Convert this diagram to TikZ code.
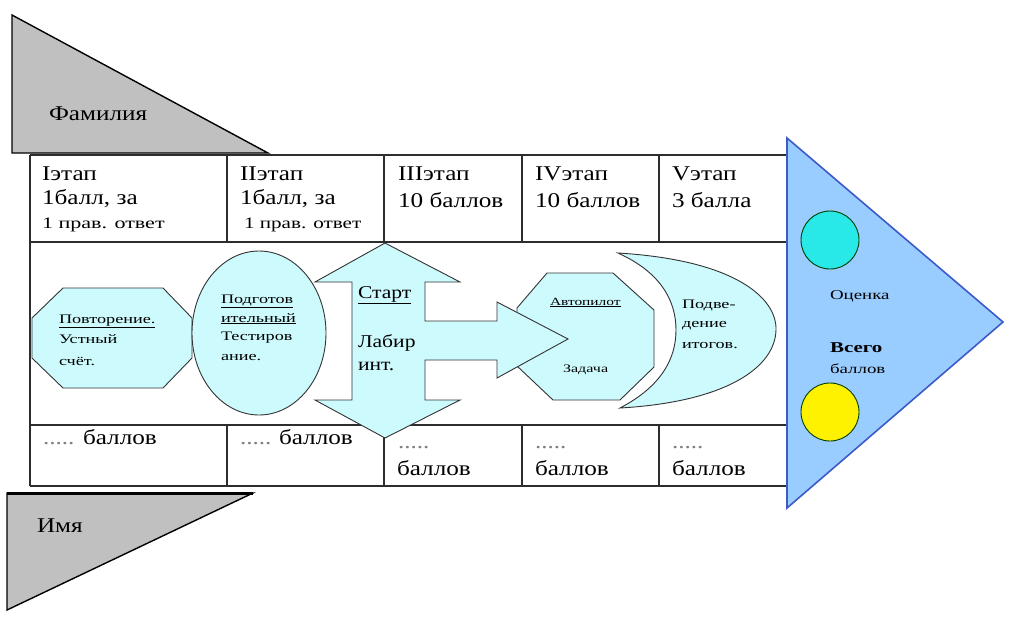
\documentclass[tikz,border=0pt]{standalone}
\usepackage{fontspec}
\setmainfont{Liberation Serif}
\newfontfamily\wf[FakeStretch=1.2]{Liberation Serif}
\newfontfamily\wfw[FakeStretch=1.4]{Liberation Serif}
\definecolor{lcyan}{RGB}{205,250,253}
\definecolor{tgray}{RGB}{192,192,192}
\definecolor{bfill}{RGB}{153,204,255}
\definecolor{bline}{RGB}{60,90,200}
\definecolor{ccyan}{RGB}{40,232,232}
\definecolor{lineg}{RGB}{45,45,45}
\begin{document}
\begin{tikzpicture}[x=1pt,y=-1pt,
  lbl/.style={anchor=base west, inner sep=0pt, outer sep=0pt},
  big/.style={lbl, font=\fontsize{21}{24}\wf},
  small/.style={lbl, font=\fontsize{16}{18}\wf},
  tiny/.style={lbl, font=\fontsize{13}{15}\wfw},
  mid/.style={lbl, font=\fontsize{18}{20}\wf},
  dots/.style={lbl, font=\fontsize{21}{24}\wf, text=gray},
  tbl/.style={draw=lineg, line width=1.4pt},
  shp/.style={draw=black!80, line width=0.9pt, fill=lcyan},
  gtri/.style={fill=tgray, draw=black, line width=1.4pt},
]
\useasboundingbox (0,0) rectangle (1009,619);
\fill[white] (0,0) rectangle (1009,619);

% gray triangles
\draw[gtri] (12,15) -- (12,153) -- (268,153) -- cycle;
\draw[gtri] (7,493) -- (253,493) -- (7,610) -- cycle;
\draw[black, line width=3pt] (7,493) -- (253,493);

% table
\draw[tbl, line width=2.2pt] (30,155) -- (787,155);
\draw[tbl] (30,242) -- (787,242);
\draw[tbl] (30,425) -- (787,425);
\draw[tbl] (30,486) -- (787,486);
\draw[tbl] (30,155) -- (30,486);
\foreach \cx in {227,384,522,659} {
  \draw[tbl] (\cx,155) -- (\cx,242);
  \draw[tbl] (\cx,425) -- (\cx,486);
}

% blue triangle
\draw[fill=bfill, draw=bline, line width=1.6pt] (787,138) -- (1003,322) -- (787,508) -- cycle;
\draw[fill=ccyan, draw=black!75!green, line width=0.9pt] (830,240) circle (29);
\draw[fill=yellow, draw=black!75!green, line width=0.9pt] (830,412) circle (29);

% shape 1: octagon
\draw[shp] (63,288) -- (163,288) -- (192,318) -- (192,358) -- (163,388) -- (63,388) -- (32,358) -- (32,318) -- cycle;
% shape 2: ellipse
\draw[shp] (259,333) ellipse [x radius=67, y radius=82];
% shape 4: octagon
\draw[shp] (547,273) -- (613,273) -- (654,310) -- (654,367) -- (620,400) -- (553,400) -- (517,366) -- (517,308) -- cycle;
% shape 5: crescent
\draw[shp] (618,253) .. controls (735,260) and (777,298) .. (776,330)
  .. controls (775,368) and (725,402) .. (620,408)
  .. controls (662,386) and (676,358) .. (676,330)
  .. controls (676,300) and (660,272) .. (618,253) -- cycle;
% shape 3: cross arrow
\draw[shp] (385,243) -- (460,282) -- (425,282) -- (425,321) -- (497,321) -- (497,302) -- (568,339) -- (497,378) -- (497,360) -- (425,360) -- (425,400) -- (460,400) -- (385,438) -- (315,400) -- (352,400) -- (352,282) -- (315,282) -- cycle;

% texts: triangles
\node[lbl, font=\fontsize{21}{24}\wf] (fam) at (49,120) {Фамилия};
\node[lbl, font=\fontsize{21}{24}\wf] (imya) at (37,532) {Имя};

% header row
\node[big] (h1a) at (42,180) {Iэтап};
\node[big] (h1b) at (42,204) {1балл, за};
\node[small] (h1c) at (42,228) {\scalebox{1.15}[1]{1 прав. ответ}};
\node[big] (h2a) at (240,180) {IIэтап};
\node[big] (h2b) at (240,204) {1балл, за};
\node[small] (h2c) at (244,228) {\scalebox{1.1}[1]{1 прав. ответ}};
\node[big] (h3a) at (398,180) {IIIэтап};
\node[big] (h3b) at (398,207) {10 баллов};
\node[big] (h4a) at (535,180) {IVэтап};
\node[big] (h4b) at (535,207) {10 баллов};
\node[big] (h5a) at (672,180) {Vэтап};
\node[big] (h5b) at (672,207) {3 балла};

% bottom row
\node[dots] (b1d) at (43,444) {.....};
\node[big] (b1) at (83,444) {баллов};
\node[dots] (b2d) at (240,444) {.....};
\node[big] (b2) at (279,444) {баллов};
\node[dots] (b3d) at (398,448) {.....};
\node[big] (b3) at (397,475) {баллов};
\node[dots] (b4d) at (535,448) {.....};
\node[big] (b4) at (535,475) {баллов};
\node[dots] (b5d) at (672,448) {.....};
\node[big] (b5) at (672,475) {баллов};

% shape 1 text
\node[tiny] (s1a) at (59,323) {\underline{Повторение.}};
\node[tiny] (s1b) at (59,343) {Устный};
\node[tiny] (s1c) at (59,365) {счёт.};
% shape 2 text
\node[tiny] (s2a) at (221,303) {\underline{Подготов}};
\node[tiny] (s2b) at (221,322) {\underline{ительный}};
\node[tiny] (s2c) at (221,340) {Тестиров};
\node[tiny] (s2d) at (221,360) {ание.};
% shape 3 text
\node[mid] (s3a) at (358,298) {\underline{Старт}};
\node[mid] (s3b) at (358,347) {Лабир};
\node[mid] (s3c) at (358,370) {инт.};
% shape 4 text
\node[lbl, font=\fontsize{11}{13}\wfw] (s4a) at (550,305) {\underline{Автопилот}};
\node[lbl, font=\fontsize{11.5}{13}\wfw] (s4b) at (563,372) {Задача};
% shape 5 text
\node[lbl, font=\fontsize{13}{15}\wfw] (s5a) at (682,308) {Подве-};
\node[lbl, font=\fontsize{13}{15}\wfw] (s5b) at (682,327) {дение};
\node[lbl, font=\fontsize{13}{15}\wfw] (s5c) at (682,348) {итогов.};
% right texts
\node[lbl, font=\fontsize{13.5}{15}\wfw] (ocen) at (830,299) {Оценка};
\node[lbl, font=\fontsize{15}{17}\wfw\bfseries] (vseg) at (830,352) {Всего};
\node[lbl, font=\fontsize{13.5}{15}\wfw] (ball) at (830,373) {баллов};
\end{tikzpicture}
\end{document}
